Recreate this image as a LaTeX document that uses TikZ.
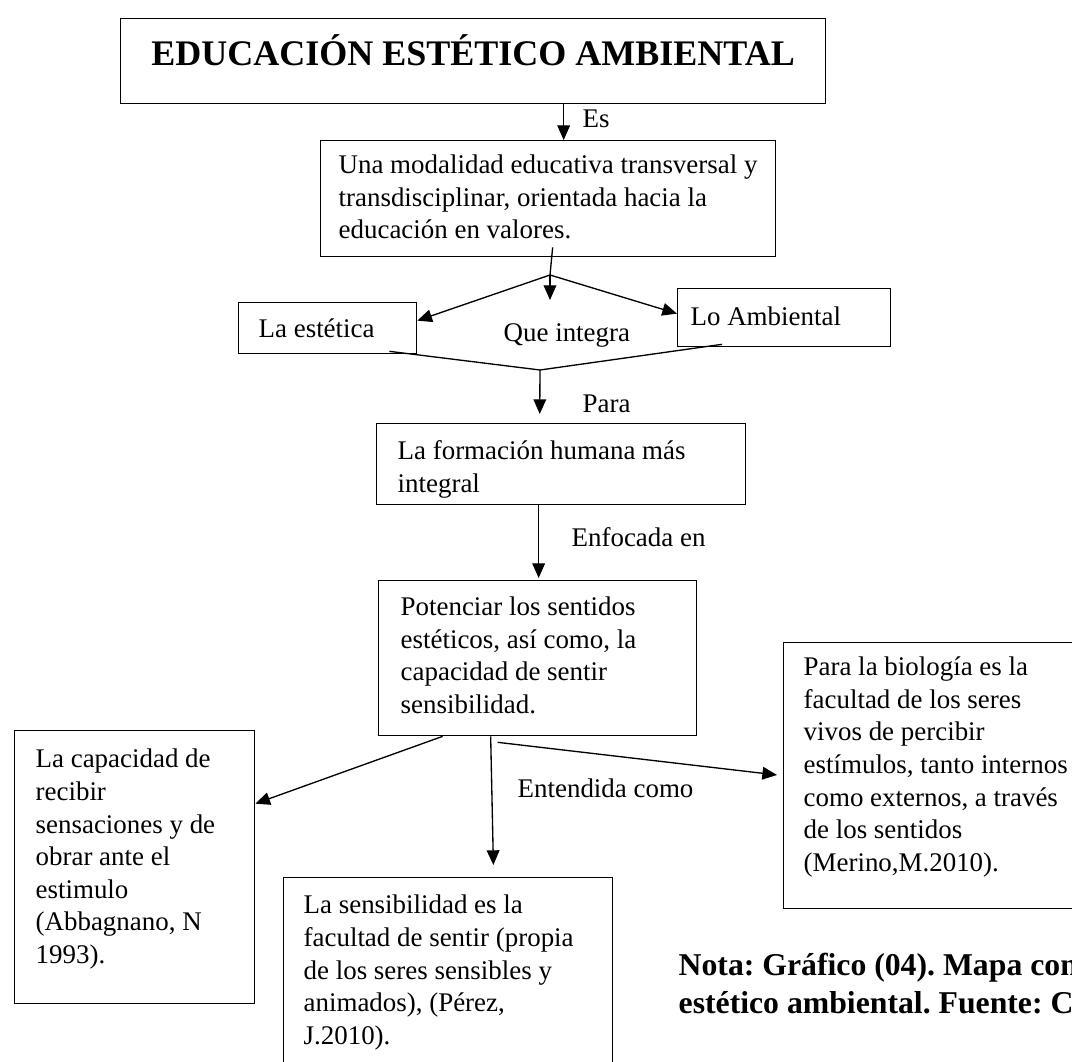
\documentclass[tikz,border=0pt]{standalone}
\usepackage{fontspec}
\setmainfont{Liberation Serif}
\usetikzlibrary{arrows.meta, positioning, calc}
\newcommand{\txtsize}{\fontsize{20.2pt}{24.5pt}\selectfont}

\begin{document}
\frenchspacing
\begin{tikzpicture}[x=0.75pt, y=-0.75pt, line width=1pt,
    >={Triangle[length=11pt,width=9.5pt]},
    box/.style={draw, anchor=north west, align=flush left, inner sep=0pt, font=\txtsize,
      execute at begin node={\leftskip=#1\relax}},
    lbl/.style={anchor=base west, inner sep=0pt, font=\txtsize}]
  \useasboundingbox (0,0) rectangle (1072,1062);

  % boxes
  \node[draw, anchor=north west, inner sep=0pt, align=flush center, text width=528.75pt,
    text height=35.25pt, text depth=28.5pt, font=\fontsize{27pt}{32pt}\selectfont\bfseries]
    (title) at (120,18) {EDUCACIÓN ESTÉTICO AMBIENTAL};
  \node[box=13.5pt, text width=341.25pt, text height=24.75pt, text depth=62.25pt] (modal) at (320,140)
    {Una modalidad educativa transversal y\\ transdisciplinar, orientada hacia la\\ educación en valores.};
  \node[box=15pt, text width=133.5pt, text height=26.25pt, text depth=12pt] (estetica) at (238,302) {La estética};
  \node[box=9.75pt, text width=159.75pt, text height=27.75pt, text depth=15.75pt] (ambiental) at (677,288) {Lo Ambiental};
  \node[box=15.75pt, text width=276.75pt, text height=27pt, text depth=33.75pt] (formacion) at (376,423)
    {La formación humana más\\ integral};
  \node[box=16.5pt, text width=238.5pt, text height=26.25pt, text depth=90pt] (potenciar) at (378,580)
    {Potenciar los sentidos\\ estéticos, así como, la\\ capacidad de sentir\\ sensibilidad.};
  \node[box=15.75pt, text width=180pt, text height=27.75pt, text depth=177pt] (capacidad) at (14,730)
    {La capacidad de\\ recibir\\ sensaciones y de\\ obrar ante el\\ estimulo\\ (Abbagnano, N\\ 1993).};
  \node[box=15pt, text width=246.75pt, text height=27pt, text depth=132.75pt] (sensibilidad) at (283,877)
    {La sensibilidad es la\\ facultad de sentir (propia\\ de los seres sensibles y\\ animados), (Pérez,\\ J.2010).};
  \node[box=15pt, text width=237.75pt, text height=24.75pt, text depth=174.75pt] (biologia) at (783,642)
    {Para la biología es la\\ facultad de los seres\\ vivos de percibir\\ estímulos, tanto internos\\ como externos, a través\\ de los sentidos\\ (Merino,M.2010).};

  % link words
  \node[lbl] (es) at (582,128) {Es};
  \node[lbl] (integra) at (503,342) {Que integra};
  \node[lbl] (para) at (582,413) {Para};
  \node[lbl] (enfocada) at (571,547) {Enfocada en};
  \node[lbl] (entendida) at (517,797) {Entendida como};

  \node[anchor=base west, inner sep=0pt, align=flush left, text width=330pt,
    font=\fontsize{23.8pt}{28.5pt}\selectfont\bfseries]
    (nota) at (678,975) {Nota: Gráfico (04). Mapa con\\ estético ambiental. Fuente: C};

  % connectors
  \coordinate (fork) at (550,275);
  \coordinate (forktip) at (550,300);
  \coordinate (join) at (540,370);

  \draw[->] ([shift={(90.5,0)}]title.south) -- ([shift={(15.5,0)}]modal.north);
  \draw ([shift={(4.5,-10)}]modal.south) -- (fork);
  \draw[->] (fork) -- (forktip);
  \draw[->] (fork) -- ([shift={(0,-7.5)}]estetica.east);
  \draw[->] (fork) -- ([shift={(0,-4)}]ambiental.west);
  \draw ([shift={(-28,-3)}]estetica.south east) -- (join) -- ([shift={(45,-3)}]ambiental.south west);
  \draw[->, shorten >=6.75pt] (join) -- ([shift={(-21.5,0)}]formacion.north);
  \draw[->, shorten >=1.5pt] ([shift={(-22.5,0)}]formacion.south) -- ([shift={(1,0)}]potenciar.north);
  \draw[->] ([shift={(-95,0)}]potenciar.south) -- ([shift={(0,-63.5)}]capacidad.east);
  \draw[->, shorten >=9pt] ([shift={(-47,0)}]potenciar.south) -- ([shift={(45.5,0)}]sensibilidad.north);
  \draw[->, shorten >=4.5pt] ([shift={(-40,6)}]potenciar.south) -- (biologia.west);
\end{tikzpicture}
\end{document}
